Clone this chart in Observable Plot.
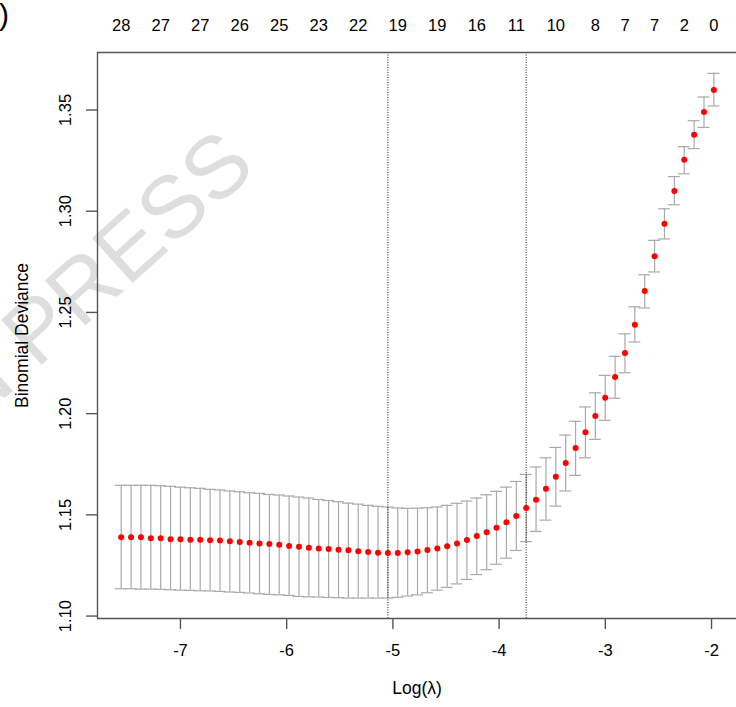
<!DOCTYPE html>
<html><head><meta charset="utf-8">
<script src="https://cdn.jsdelivr.net/npm/d3@7"></script>
<script src="https://cdn.jsdelivr.net/npm/@observablehq/plot@0.6"></script>
<style>body{margin:0;background:#fff;} #chart svg{display:block;}</style>
</head><body><div id="chart"></div>
<script>
const logLambda = [-7.558,-7.465,-7.372,-7.279,-7.186,-7.093,-7.000,-6.907,-6.814,-6.721,
  -6.628,-6.535,-6.442,-6.349,-6.256,-6.163,-6.070,-5.977,-5.884,-5.791,
  -5.698,-5.605,-5.512,-5.419,-5.326,-5.233,-5.140,-5.047,-4.954,-4.861,
  -4.768,-4.675,-4.582,-4.489,-4.396,-4.303,-4.210,-4.117,-4.024,-3.931,
  -3.838,-3.745,-3.652,-3.559,-3.466,-3.373,-3.280,-3.187,-3.094,-3.001,
  -2.908,-2.815,-2.722,-2.629,-2.536,-2.443,-2.350,-2.257,-2.164,-2.071,-1.978];
const cvm = [1.1389,1.1389,1.1389,1.1385,1.1385,1.1380,1.1380,1.1377,1.1377,1.1374,
  1.1373,1.1369,1.1366,1.1362,1.1359,1.1356,1.1352,1.1346,1.1342,1.1338,
  1.1334,1.1331,1.1328,1.1325,1.1320,1.1316,1.1313,1.1311,1.1312,1.1315,
  1.1319,1.1326,1.1334,1.1345,1.1358,1.1376,1.1395,1.1414,1.1436,1.1463,
  1.1494,1.1534,1.1575,1.1629,1.1688,1.1756,1.1830,1.1908,1.1988,1.2079,
  1.2181,1.2300,1.2439,1.2606,1.2777,1.2938,1.3100,1.3254,1.3378,1.3490,1.3599];
const cvup = [1.1646,1.1646,1.1646,1.1646,1.1644,1.1641,1.1637,1.1634,1.1631,1.1626,
  1.1623,1.1618,1.1614,1.1609,1.1606,1.1601,1.1598,1.1593,1.1588,1.1583,
  1.1576,1.1571,1.1565,1.1558,1.1553,1.1547,1.1542,1.1539,1.1534,1.1532,
  1.1533,1.1535,1.1539,1.1547,1.1557,1.1568,1.1583,1.1599,1.1616,1.1637,
  1.1665,1.1700,1.1736,1.1782,1.1833,1.1894,1.1962,1.2033,1.2103,1.2189,
  1.2283,1.2394,1.2528,1.2686,1.2856,1.3012,1.3171,1.3319,1.3447,1.3564,1.3681];
const cvlo = [1.1135,1.1135,1.1133,1.1133,1.1132,1.1130,1.1128,1.1127,1.1125,1.1124,
  1.1122,1.1119,1.1117,1.1114,1.1110,1.1107,1.1105,1.1102,1.1097,1.1095,
  1.1094,1.1092,1.1091,1.1089,1.1089,1.1089,1.1089,1.1089,1.1093,1.1099,
  1.1105,1.1115,1.1128,1.1142,1.1159,1.1181,1.1205,1.1229,1.1256,1.1286,
  1.1324,1.1368,1.1418,1.1474,1.1543,1.1618,1.1695,1.1782,1.1873,1.1967,
  1.2076,1.2202,1.2354,1.2522,1.2700,1.2863,1.3032,1.3185,1.3309,1.3414,1.3520];
const nzIndex = [0,4,8,12,16,20,24,28,32,36,40,44,48,51,54,57,60];
const nzLabels = ["28","27","27","26","25","23","22","19","19","16","11","10","8","7","7","2","0"];
const xTicks = [-7,-6,-5,-4,-3,-2];
const yTicks = [1.10,1.15,1.20,1.25,1.30,1.35];
const yTickLabels = ["1.10","1.15","1.20","1.25","1.30","1.35"];
const idxMin = 27, idx1se = 41;
const xLabel = "Log(λ)";
const yLabel = "Binomial Deviance";

const rows = logLambda.map((x, i) => ({x, m: cvm[i], lo: cvlo[i], hi: cvup[i]}));
const barw = (d3.max(logLambda) - d3.min(logLambda)) * 0.01;
const xDomain = [-7.781, -1.765];
const yDomain = [1.0988, 1.3784];
const grey = "#A9A9A9";
const axisCol = "#555";
const font = "'Liberation Sans', Arial, sans-serif";

const chart = Plot.plot({
  width: 736, height: 707,
  marginLeft: 97, marginRight: 0, marginTop: 52, marginBottom: 89,
  style: {fontFamily: font, fontSize: "16px", color: "black", background: "white"},
  x: {domain: xDomain},
  y: {domain: yDomain},
  marks: [
    Plot.ruleX(rows, {x: "x", y1: "lo", y2: "hi", stroke: grey, strokeWidth: 1.2}),
    Plot.ruleY(rows, {y: "hi", x1: d => d.x - barw, x2: d => d.x + barw, stroke: grey, strokeWidth: 1.2}),
    Plot.ruleY(rows, {y: "lo", x1: d => d.x - barw, x2: d => d.x + barw, stroke: grey, strokeWidth: 1.2}),
    Plot.ruleX([logLambda[idxMin], logLambda[idx1se]], {stroke: "#222", strokeWidth: 1, strokeDasharray: "1,1.5"}),
    Plot.dot(rows, {x: "x", y: "m", r: 3, fill: "#ff0000", stroke: "none"}),
    Plot.ruleY([yDomain[1]], {stroke: axisCol, strokeWidth: 1.4}),
    Plot.ruleY([yDomain[0]], {stroke: axisCol, strokeWidth: 1.4}),
    Plot.ruleX([xDomain[0]], {stroke: axisCol, strokeWidth: 1.4}),
    Plot.axisX(xTicks, {tickSize: 11, tickFormat: () => "", stroke: axisCol, strokeWidth: 1.4, label: null}),
    Plot.axisY(yTicks, {tickSize: 11, tickFormat: () => "", stroke: axisCol, strokeWidth: 1.4, label: null}),
    Plot.text(xTicks, {x: d => d, text: d => String(d), frameAnchor: "bottom", dy: 37, fontSize: 16.5, fill: "black"}),
    Plot.text(yTicks, {y: d => d, text: (d, i) => yTickLabels[i], frameAnchor: "left", textAnchor: "middle", dx: -32, rotate: -90, fontSize: 16.5, fill: "black"}),
    Plot.text(nzIndex, {x: i => logLambda[i], text: (i, k) => nzLabels[k], frameAnchor: "top", dy: -33, fontSize: 16.5, fill: "black"}),
    Plot.text([xLabel], {frameAnchor: "bottom", textAnchor: "middle", dy: 75, fontSize: 17.5, fill: "black"}),
    Plot.text([yLabel], {frameAnchor: "left", textAnchor: "middle", dx: -75, rotate: -90, fontSize: 17.5, fill: "black"})
  ]
});

// watermark and panel letter (text)
const svg = d3.select(chart);
const bg = svg.insert("g", ":first-child");
bg.append("text")
  .attr("transform", "translate(258,170) rotate(-42)")
  .attr("text-anchor", "end")
  .attr("font-family", font)
  .attr("font-size", 88)
  .attr("fill", "#dedede")
  .text("IN PRESS");
svg.append("text")
  .attr("x", 9).attr("y", 25)
  .attr("text-anchor", "end")
  .attr("font-family", font)
  .attr("font-size", 30)
  .attr("fill", "black")
  .text("D)");
document.getElementById("chart").appendChild(chart);
</script>
</body></html>
